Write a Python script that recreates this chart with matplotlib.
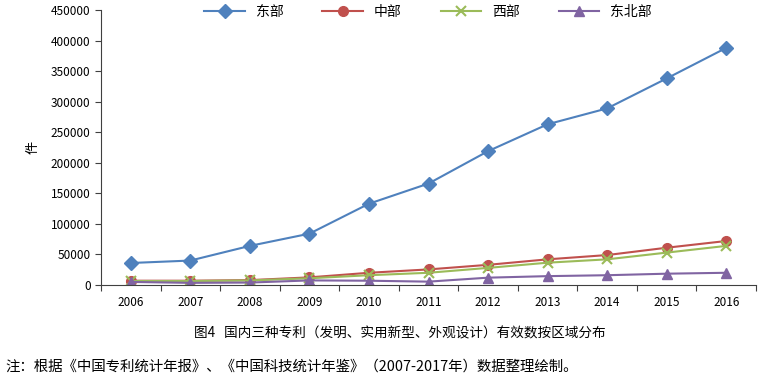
import matplotlib
matplotlib.use('Agg')
import matplotlib.pyplot as plt

plt.rcParams['font.family'] = ['Noto Sans CJK SC', 'DejaVu Sans']

years = ['2006', '2007', '2008', '2009', '2010', '2011', '2012', '2013', '2014', '2015', '2016']
east = [36000, 40000, 64000, 84000, 133000, 166000, 219000, 263000, 289000, 338000, 388000]
central = [7000, 7000, 8000, 12500, 20000, 25500, 33000, 42000, 49000, 61000, 72000]
west = [6500, 6500, 7500, 11000, 16000, 20000, 28000, 36500, 42000, 53000, 64000]
northeast = [5000, 3500, 4000, 7500, 7000, 5500, 12000, 14500, 16000, 18500, 20000]

series = [
    ('东部', east, '#4F81BD', 'D', 7.5),
    ('中部', central, '#C0504D', 'o', 7),
    ('西部', west, '#9BBB59', 'x', 7),
    ('东北部', northeast, '#8064A2', '^', 7),
]

fig = plt.figure(figsize=(7.67, 3.79), dpi=100)
ax = fig.add_axes([101 / 767, 1 - 285 / 379, 655 / 767, 275 / 379])

x = list(range(len(years)))
for name, vals, color, marker, ms in series:
    kw = dict(markeredgewidth=1.5) if marker == 'x' else dict(markeredgecolor=color)
    ax.plot(x, vals, color=color, marker=marker, markersize=ms, linewidth=1.5,
            label=name, **kw)

ax.set_xlim(-0.5, len(years) - 0.5)
ax.set_ylim(0, 450000)
ax.set_yticks(range(0, 450001, 50000))
ax.set_yticklabels([str(v) for v in range(0, 450001, 50000)], fontsize=8.5)
ax.set_xticks([i - 0.5 for i in range(len(years) + 1)])
ax.set_xticklabels([])
ax.set_xticks(x, minor=True)
ax.set_xticklabels(years, minor=True, fontsize=8.5)
ax.tick_params(axis='x', which='minor', length=0, pad=8)
ax.tick_params(axis='x', which='major', length=4, direction='out', color='#404040')
ax.tick_params(axis='y', length=4, direction='out', color='#404040')

for s in ['top', 'right']:
    ax.spines[s].set_visible(False)
for s in ['left', 'bottom']:
    ax.spines[s].set_color('#404040')
    ax.spines[s].set_linewidth(0.8)

ax.set_ylabel('件', fontsize=9.5, labelpad=8)

fig.legend(loc='center', bbox_to_anchor=(428 / 767, 1 - 12 / 379), ncol=4, frameon=False,
           fontsize=10, handlelength=2.9, columnspacing=2.8, handletextpad=0.8)

fig.text(400 / 767, 1 - 333 / 379, '图4   国内三种专利（发明、实用新型、外观设计）有效数按区域分布',
         ha='center', va='center', fontsize=9.8)
fig.text(5 / 767, 1 - 367 / 379, '注：根据《中国专利统计年报》、《中国科技统计年鉴》（2007-2017年）数据整理绘制。',
         ha='left', va='center', fontsize=10.4)

fig.savefig('out.png', dpi=100)
